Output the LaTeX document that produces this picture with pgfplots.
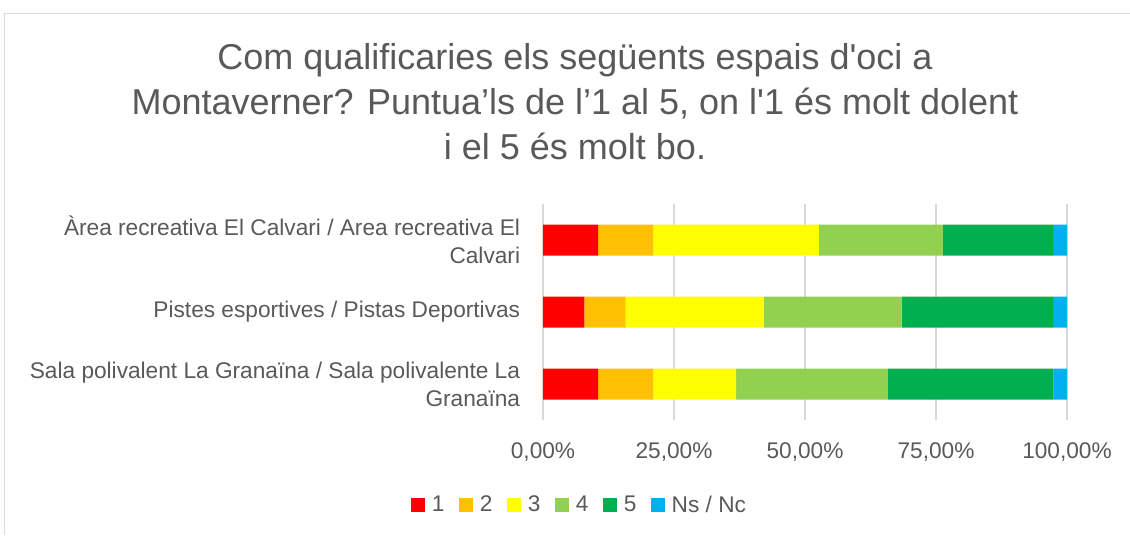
\documentclass[border=0pt]{standalone}
\usepackage{fontspec}
\setmainfont{Liberation Sans}[Ligatures=TeXOff]
\usepackage{pgfplots}
\pgfplotsset{compat=1.18}
\definecolor{txt}{HTML}{595959}
\definecolor{grd}{HTML}{D9D9D9}
\definecolor{c1}{HTML}{FF0000}
\definecolor{c2}{HTML}{FFC000}
\definecolor{c3}{HTML}{FFFF00}
\definecolor{c4}{HTML}{92D050}
\definecolor{c5}{HTML}{00B050}
\definecolor{c6}{HTML}{00B0F0}
\begin{document}
\begin{tikzpicture}
\useasboundingbox (0,0) rectangle (847.5pt,401.25pt);
% chart area frame (cropped)
\draw[grd, line width=0.75pt] (3pt,0) -- (3pt,390.75pt) -- (847.5pt,390.75pt);
\node[txt, align=center, font=\fontsize{27}{33.75}\selectfont] at (431.25pt,324.75pt)
  {Com qualificaries els següents espais d'oci a\\Montaverner? Puntua’ls de l’1 al 5, on l'1 és molt dolent\\i el 5 és molt bo.};
\begin{axis}[
  at={(407.25pt,86.25pt)}, anchor=south west,
  scale only axis, width=393pt, height=162pt,
  xbar stacked, bar width=23.25pt,
  xmin=0, xmax=100, ymin=-0.5, ymax=2.5,
  axis line style={draw=none},
  tick style={draw=none},
  xmajorgrids, grid style={grd, line width=0.9pt},
  xtick={0,25,50,75,100},
  xticklabels={{0,00\%},{25,00\%},{50,00\%},{75,00\%},{100,00\%}},
  xticklabel style={anchor=center, inner sep=0pt, yshift=-24pt, text=txt, font=\fontsize{17}{20}\selectfont},
  ytick={0,1,2},
  yticklabels={{Sala polivalent La Granaïna / Sala polivalente La\\Granaïna},
               {Pistes esportives / Pistas Deportivas},
               {Àrea recreativa El Calvari / Area recreativa El\\Calvari}},
  yticklabel style={anchor=east, inner sep=0pt, xshift=-17pt, align=right, text=txt, font=\fontsize{17}{21}\selectfont},
  legend style={at={(0.0706,-0.3935)}, anchor=center, draw=none, fill=none,
    legend columns=-1, text=txt, font=\fontsize{17}{20}\selectfont,
    /tikz/every odd column/.append style={column sep=3pt},
    /tikz/every even column/.append style={column sep=9pt},
    legend cell align=left},
]
\addplot[fill=c1, draw=none, legend image code/.code={\fill[c1] (0pt,-5pt) rectangle (10.5pt,5.5pt);}]
  coordinates {(10.53,2) (7.89,1) (10.53,0)};
\addplot[fill=c2, draw=none, legend image code/.code={\fill[c2] (0pt,-5pt) rectangle (10.5pt,5.5pt);}]
  coordinates {(10.53,2) (7.89,1) (10.53,0)};
\addplot[fill=c3, draw=none, legend image code/.code={\fill[c3] (0pt,-5pt) rectangle (10.5pt,5.5pt);}]
  coordinates {(31.58,2) (26.32,1) (15.79,0)};
\addplot[fill=c4, draw=none, legend image code/.code={\fill[c4] (0pt,-5pt) rectangle (10.5pt,5.5pt);}]
  coordinates {(23.68,2) (26.32,1) (28.95,0)};
\addplot[fill=c5, draw=none, legend image code/.code={\fill[c5] (0pt,-5pt) rectangle (10.5pt,5.5pt);}]
  coordinates {(21.05,2) (28.95,1) (31.58,0)};
\addplot[fill=c6, draw=none, legend image code/.code={\fill[c6] (0pt,-5pt) rectangle (10.5pt,5.5pt);}]
  coordinates {(2.63,2) (2.63,1) (2.63,0)};
\legend{1,2,3,4,5,Ns / Nc}
\end{axis}
\end{tikzpicture}
\end{document}
